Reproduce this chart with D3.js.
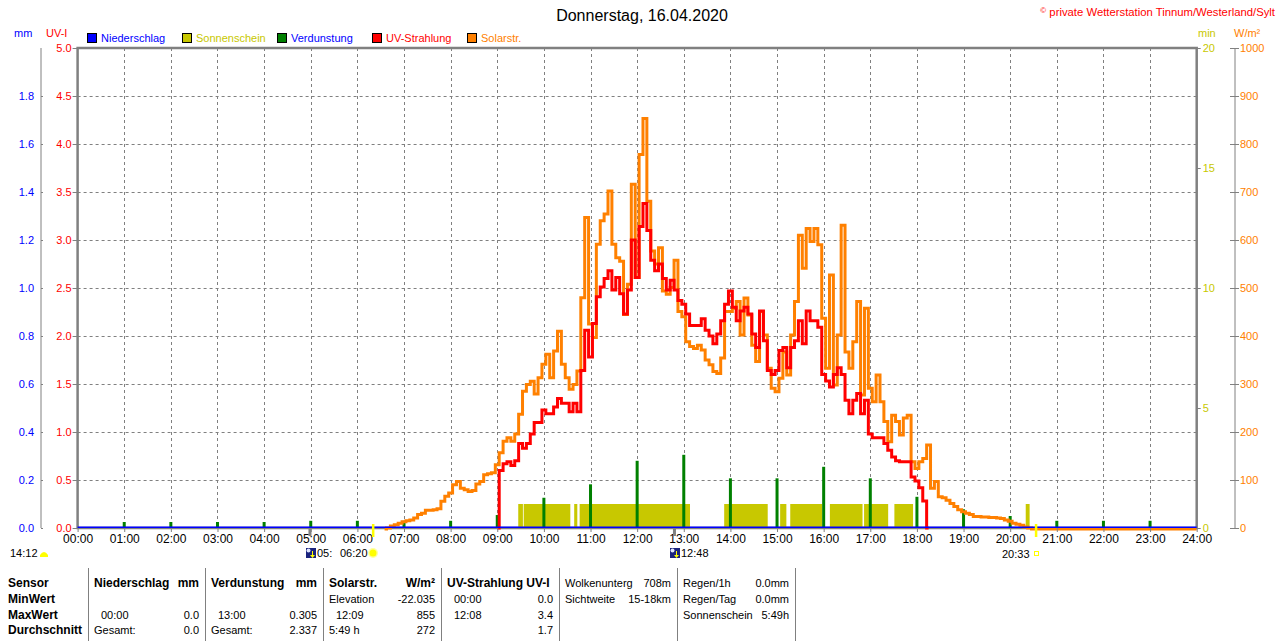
<!DOCTYPE html>
<html>
<head>
<meta charset="utf-8">
<script src="https://cdn.jsdelivr.net/npm/d3@7"></script>
<style>
  body { margin: 0; background: #fff; }
  svg { font-family: "Liberation Sans", Arial, sans-serif; display: block; }
</style>
</head>
<body>
<svg id="chart" width="1280" height="641"></svg>
<script>
// ---- data ----
const hourLabels = ["00:00","01:00","02:00","03:00","04:00","05:00","06:00","07:00","08:00","09:00","10:00","11:00","12:00",
  "13:00","14:00","15:00","16:00","17:00","18:00","19:00","20:00","21:00","22:00","23:00","24:00"];
const uvTicks = [0, 0.5, 1, 1.5, 2, 2.5, 3, 3.5, 4, 4.5, 5];
const mmTicks = [0, 0.2, 0.4, 0.6, 0.8, 1.0, 1.2, 1.4, 1.6, 1.8];
const minTicks = [0, 5, 10, 15, 20];
const solarTicks = [0, 100, 200, 300, 400, 500, 600, 700, 800, 900, 1000];

// solar radiation W/m², one value every 5 minutes from 06:35
const solarStart = "06:35";
const solarValues = [
  0, 2, 6, 9, 12, 15, 17, 19, 23, 30, 33, 39, 39, 40, 42, 58, 68,          // 06:35 - 07:55
  75, 92, 99, 85, 82, 78, 80, 94, 99, 113, 115, 117,                       // 08:00 - 08:55
  134, 159, 183, 190, 183, 198, 239, 287, 301, 308, 281, 315,              // 09:00 - 09:55
  343, 364, 315, 371, 412, 343, 315, 291, 301, 329, 482, 649,              // 10:00 - 10:55
  427, 399, 593, 642, 656, 704, 593, 565, 558, 447, 510, 718,              // 11:00 - 11:55
  524, 780, 855, 683, 579, 552, 586, 496, 489, 503, 560, 453,              // 12:00 - 12:55
  442, 390, 380, 376, 383, 373, 352, 342, 328, 324, 356, 453,              // 13:00 - 13:55
  453, 460, 474, 404, 481, 446, 383, 349, 453, 404, 335, 293,              // 14:00 - 14:55
  286, 314, 369, 321, 404, 474, 612, 543, 626, 599, 626, 592,              // 15:00 - 15:55
  439, 335, 529, 300, 404, 633, 369, 335, 390, 474, 279, 460,              // 16:00 - 16:55
  293, 265, 321, 265, 224, 182, 237, 224, 196, 231, 237, 140,              // 17:00 - 17:55
  126, 140, 147, 175, 85, 99, 67, 65, 60, 53, 47, 40,                      // 18:00 - 18:55
  36, 33, 30, 26, 26, 25, 25, 24, 24, 23, 22, 19,                          // 19:00 - 19:55
  16, 12, 10, 8, 4, 2, 0                                                   // 20:00 - 20:30
];
const solarEnd = "24:00";

// UV index, one value every 5 minutes from 09:00
const uvStart = "09:00";
const uvValues = [
  0, 0.60, 0.67, 0.69, 0.65, 0.70, 0.88, 0.83, 0.88, 0.98, 1.10, 1.10,    // 09:00 - 09:55
  1.23, 1.19, 1.19, 1.26, 1.35, 1.30, 1.30, 1.21, 1.30, 1.21, 1.64, 2.06, // 10:00 - 10:55
  1.78, 2.13, 2.41, 2.51, 2.60, 2.68, 2.48, 2.61, 2.44, 2.23, 2.48, 3.00, // 11:00 - 11:55
  2.61, 3.14, 3.38, 3.10, 2.79, 2.68, 2.75, 2.60, 2.48, 2.58, 2.48, 2.37, // 12:00 - 12:55
  2.33, 2.23, 2.11, 2.11, 2.11, 2.18, 2.06, 2.00, 1.92, 2.02, 2.16, 2.33, // 13:00 - 13:55
  2.47, 2.30, 2.16, 2.26, 2.30, 2.23, 2.02, 1.88, 2.26, 1.95, 1.64, 1.60, // 14:00 - 14:55
  1.64, 1.85, 1.88, 1.67, 1.88, 1.95, 2.16, 1.92, 2.26, 2.16, 2.16, 2.09, // 15:00 - 15:55
  1.60, 1.53, 1.47, 1.60, 1.67, 1.60, 1.33, 1.19, 1.33, 1.40, 1.19, 1.33, // 16:00 - 16:55
  0.98, 0.94, 0.94, 0.94, 0.88, 0.81, 0.74, 0.70, 0.69, 0.69, 0.69, 0.53, // 17:00 - 17:55
  0.49, 0.42, 0.28, 0                                                     // 18:00 - 18:15
];

// evaporation mm per hour
const evapTimes = ["01:00","02:00","03:00","04:00","05:00","06:00","07:00","08:00","09:00","10:00","11:00","12:00",
  "13:00","14:00","15:00","16:00","17:00","18:00","19:00","20:00","21:00","22:00","23:00"];
const evapValues = [0.025, 0.025, 0.025, 0.025, 0.03, 0.03, 0.03, 0.03, 0.054, 0.126, 0.182, 0.28,
  0.305, 0.207, 0.207, 0.255, 0.207, 0.13, 0.078, 0.05, 0.03, 0.03, 0.03];

// sunshine (minutes per minute) periods
const sunStarts = ["09:27","09:34","10:39","10:46","13:52","15:04","15:17","16:08","16:52","17:31","20:20"];
const sunEnds   = ["09:33","10:34","10:43","13:08","14:48","15:12","15:58","16:50","17:23","17:55","20:25"];
const sunValue = 1;

// precipitation mm
const rainTimes = ["00:00","24:00"];
const rainValues = [0, 0];

// sun and moon events
const sunrise = "06:20", sunset = "20:33";
const moonTicks = ["04:59","12:48"];

// summary table
const tableRowNames = ["Sensor","MinWert","MaxWert","Durchschnitt"];
const tableBlocks = [
  [["Niederschlag","mm"], ["",""], ["00:00","0.0"], ["Gesamt:","0.0"]],
  [["Verdunstung","mm"], ["",""], ["13:00","0.305"], ["Gesamt:","2.337"]],
  [["Solarstr.","W/m²"], ["Elevation","-22.035"], ["12:09","855"], ["5:49 h","272"]],
  [["UV-Strahlung UV-I",""], ["00:00","0.0"], ["12:08","3.4"], ["","1.7"]],
  [["Wolkenunterg","708m"], ["Sichtweite","15-18km"]],
  [["Regen/1h","0.0mm"], ["Regen/Tag","0.0mm"], ["Sonnenschein","5:49h"]]
];

const legendNames = ["Niederschlag","Sonnenschein","Verdunstung","UV-Strahlung","Solarstr."];
const legendFill  = ["#0000ff","#c8c800","#008000","#ff0000","#ff8000"];
const legendText  = ["#0000ff","#c8c800","#0000ff","#ff0000","#ff8000"];

// ---- layout ----
const plot = { left: 77.6, right: 1196.7, top: 48, bottom: 528 };
const grey = "#808080";
const toMin = s => { const [h, m] = s.split(":").map(Number); return h * 60 + m; };

const svg = d3.select("#chart");

const x = d3.scaleLinear().domain([0, 1440]).range([plot.left, plot.right]);
const yUV = d3.scaleLinear().domain([0, 5]).range([plot.bottom, plot.top]);
const yMM = d3.scaleLinear().domain([0, 2]).range([plot.bottom, plot.top]);
const yMin = d3.scaleLinear().domain([0, 20]).range([plot.bottom, plot.top]);
const ySol = d3.scaleLinear().domain([0, 1000]).range([plot.bottom, plot.top]);

// title and copyright
svg.append("text").attr("x", 642).attr("y", 21).attr("text-anchor", "middle")
  .attr("font-size", 16).attr("fill", "#000").text("Donnerstag, 16.04.2020");
const copy = svg.append("text").attr("x", 1275).attr("y", 16).attr("text-anchor", "end")
  .attr("font-size", 11.3).attr("fill", "#ff0000");
copy.append("tspan").attr("font-size", 8).attr("dy", -3).text("©");
copy.append("tspan").attr("dy", 3).text(" private Wetterstation Tinnum/Westerland/Sylt");

// unit labels
svg.append("text").attr("x", 14).attr("y", 37).attr("font-size", 11).attr("fill", "#0000ff").text("mm");
svg.append("text").attr("x", 46).attr("y", 37).attr("font-size", 11).attr("fill", "#ff0000").text("UV-I");
svg.append("text").attr("x", 1198).attr("y", 37).attr("font-size", 11).attr("fill", "#c8c800").text("min");
svg.append("text").attr("x", 1234).attr("y", 37).attr("font-size", 11).attr("fill", "#ff8000").text("W/m²");

// legend
const legend = svg.append("g").selectAll("g").data(legendNames).join("g")
  .attr("transform", (d, i) => `translate(${87 + i * 95},33)`);
legend.append("rect").attr("x", 0.5).attr("y", 0.5).attr("width", 9).attr("height", 9)
  .attr("fill", (d, i) => legendFill[i]).attr("stroke", "#000");
legend.append("text").attr("x", 14).attr("y", 9).attr("font-size", 11)
  .attr("fill", (d, i) => legendText[i]).text(d => d);

// grid
const grid = svg.append("g").attr("stroke", grey).attr("stroke-dasharray", "3,3").attr("stroke-width", 1);
grid.selectAll(".gv").data(hourLabels.slice(1, 24)).join("line")
  .attr("x1", d => Math.round(x(toMin(d))) + 0.5).attr("x2", d => Math.round(x(toMin(d))) + 0.5)
  .attr("y1", plot.top).attr("y2", plot.bottom);
grid.selectAll(".gh").data(uvTicks.slice(1, 10)).join("line")
  .attr("x1", plot.left).attr("x2", plot.right)
  .attr("y1", d => Math.round(yUV(d)) + 0.5).attr("y2", d => Math.round(yUV(d)) + 0.5);

// frame
svg.append("rect").attr("x", plot.left).attr("y", plot.top)
  .attr("width", plot.right - plot.left).attr("height", plot.bottom - plot.top)
  .attr("fill", "none").attr("stroke", grey).attr("stroke-width", 2.5);

// sunshine bars
svg.append("g").selectAll("rect").data(sunStarts).join("rect")
  .attr("x", d => x(toMin(d)))
  .attr("width", (d, i) => x(toMin(sunEnds[i])) - x(toMin(d)))
  .attr("y", yMin(sunValue)).attr("height", yMin(0) - yMin(sunValue))
  .attr("fill", "#c8c800");

// evaporation bars
svg.append("g").selectAll("rect").data(evapTimes).join("rect")
  .attr("x", d => x(toMin(d)) - 1.5).attr("width", 3)
  .attr("y", (d, i) => yMM(evapValues[i])).attr("height", (d, i) => yMM(0) - yMM(evapValues[i]))
  .attr("fill", "#008000");

// solar line
const solarData = solarValues.map((v, i) => ({ t: toMin(solarStart) + i * 5, v }));
solarData.push({ t: toMin(solarEnd), v: 0 });
svg.append("path").datum(solarData)
  .attr("fill", "none").attr("stroke", "#ff8000").attr("stroke-width", 3)
  .attr("transform", "translate(0,1)")
  .attr("d", d3.line().curve(d3.curveStep).x(d => x(d.t)).y(d => ySol(d.v)));

// UV line
const uvData = uvValues.map((v, i) => ({ t: toMin(uvStart) + i * 5, v }));
svg.append("path").datum(uvData)
  .attr("fill", "none").attr("stroke", "#ff0000").attr("stroke-width", 3)
  .attr("d", d3.line().curve(d3.curveStep).x(d => x(d.t)).y(d => yUV(d.v)));

// precipitation line
svg.append("path").datum(rainTimes.map((t, i) => ({ t: toMin(t), v: rainValues[i] })))
  .attr("fill", "none").attr("stroke", "#0000ff").attr("stroke-width", 1.5)
  .attr("transform", "translate(0,-0.8)")
  .attr("d", d3.line().x(d => x(d.t)).y(d => yMM(d.v)));

// axes
function styleAxis(g, color) {
  g.select(".domain").remove();
  g.selectAll(".tick line").attr("stroke", grey);
  g.selectAll(".tick text").attr("fill", color).attr("font-size", 11).attr("font-family", "Liberation Sans, Arial, sans-serif");
}

const mmAxis = svg.append("g").attr("transform", "translate(41,0)")
  .call(d3.axisLeft(yMM).tickValues(mmTicks).tickFormat(d3.format(".1f")).tickSize(5).tickPadding(2));
styleAxis(mmAxis, "#0000ff");
mmAxis.selectAll(".tick line").attr("x2", 2);
svg.append("line").attr("x1", 41).attr("x2", 41).attr("y1", plot.top).attr("y2", plot.bottom).attr("stroke", grey);

const uvAxis = svg.append("g").attr("transform", `translate(${plot.left},0)`)
  .call(d3.axisLeft(yUV).tickValues(uvTicks).tickFormat(d3.format(".1f")).tickSize(5).tickPadding(1));
styleAxis(uvAxis, "#ff0000");

const minAxis = svg.append("g").attr("transform", `translate(${plot.right},0)`)
  .call(d3.axisRight(yMin).tickValues(minTicks).tickFormat(d3.format("d")).tickSize(4).tickPadding(2));
styleAxis(minAxis, "#c8c800");

const solAxis = svg.append("g").attr("transform", "translate(1235,0)")
  .call(d3.axisRight(ySol).tickValues(solarTicks).tickFormat(d3.format("d")).tickSize(4).tickPadding(1));
styleAxis(solAxis, "#ff8000");
solAxis.selectAll(".tick line").attr("x1", -5);
svg.append("line").attr("x1", 1235).attr("x2", 1235).attr("y1", plot.top).attr("y2", plot.bottom).attr("stroke", grey);

const timeAxis = svg.append("g").attr("transform", `translate(0,${plot.bottom})`)
  .call(d3.axisBottom(x).tickValues(hourLabels.map(toMin)).tickFormat((d, i) => hourLabels[i]).tickSize(4).tickPadding(2));
styleAxis(timeAxis, "#000");
timeAxis.selectAll(".tick text").attr("font-size", 12);

// moon event ticks and sunrise/sunset markers
svg.append("g").selectAll("rect").data(moonTicks).join("rect")
  .attr("x", d => x(toMin(d)) - 1.5).attr("width", 3).attr("y", plot.bottom).attr("height", 8).attr("fill", grey);
svg.append("g").selectAll("rect").data([sunrise, sunset]).join("rect")
  .attr("x", d => x(toMin(d)) - 1).attr("width", 2.5).attr("y", 524).attr("height", 13).attr("fill", "#ffff00");

// sun and moon labels under the axis
const ev = svg.append("g").attr("font-size", 11).attr("fill", "#000");
ev.append("text").attr("x", 10).attr("y", 557).text("14:12");
ev.append("path").attr("d", "M40,557 L40,555 Q44,549 48,555 L48,557 Z").attr("fill", "#ffff00");

function moonIcon(cx) {
  const g = svg.append("g").attr("transform", `translate(${cx},548)`);
  g.append("rect").attr("width", 10).attr("height", 10).attr("fill", "#1a237e");
  g.append("circle").attr("cx", 2.5).attr("cy", 2.5).attr("r", 2).attr("fill", "#dfe6ff");
  g.append("path").attr("d", "M6,3 L6,7 L4,7 L6.5,10 L9,7 L7,7 L7,3 Z").attr("fill", "#ffff00");
}
moonIcon(306);
ev.append("text").attr("x", 317).attr("y", 557).text("05:");
ev.append("text").attr("x", 340).attr("y", 557).text("06:20");
svg.append("circle").attr("cx", 373).attr("cy", 553).attr("r", 5).attr("fill", "#ffffa0");
svg.append("circle").attr("cx", 373).attr("cy", 553).attr("r", 3.5).attr("fill", "#ffff00");
moonIcon(670);
ev.append("text").attr("x", 681).attr("y", 557).text("12:48");
ev.append("text").attr("x", 1002).attr("y", 558).text("20:33");
svg.append("rect").attr("x", 1034.5).attr("y", 551.5).attr("width", 4).attr("height", 4)
  .attr("fill", "none").attr("stroke", "#ffff00");

// summary table
const colLines = [88, 205, 323, 441, 559, 677, 795];
const rowY = [587, 603, 618.5, 634];
const table = svg.append("g").attr("fill", "#000");
table.selectAll("line").data(colLines).join("line")
  .attr("x1", d => d + 0.5).attr("x2", d => d + 0.5).attr("y1", 568).attr("y2", 641)
  .attr("stroke", grey);
tableRowNames.forEach((name, r) => {
  table.append("text").attr("x", 8).attr("y", rowY[r]).attr("font-size", 12).attr("font-weight", "bold").text(name);
});
tableBlocks.forEach((rows, b) => {
  const left = colLines[b], right = colLines[b + 1];
  rows.forEach((cells, r) => {
    const bold = r === 0 && b < 4;
    const fs = bold ? 12 : 11;
    const indent = /^\d\d:\d\d$/.test(cells[0]) ? 13 : 6;
    table.append("text").attr("x", left + indent).attr("y", rowY[r]).attr("font-size", fs)
      .attr("font-weight", bold ? "bold" : "normal").text(cells[0]);
    table.append("text").attr("x", right - 6).attr("y", rowY[r]).attr("text-anchor", "end").attr("font-size", fs)
      .attr("font-weight", bold ? "bold" : "normal").text(cells[1]);
  });
});
</script>
</body>
</html>
